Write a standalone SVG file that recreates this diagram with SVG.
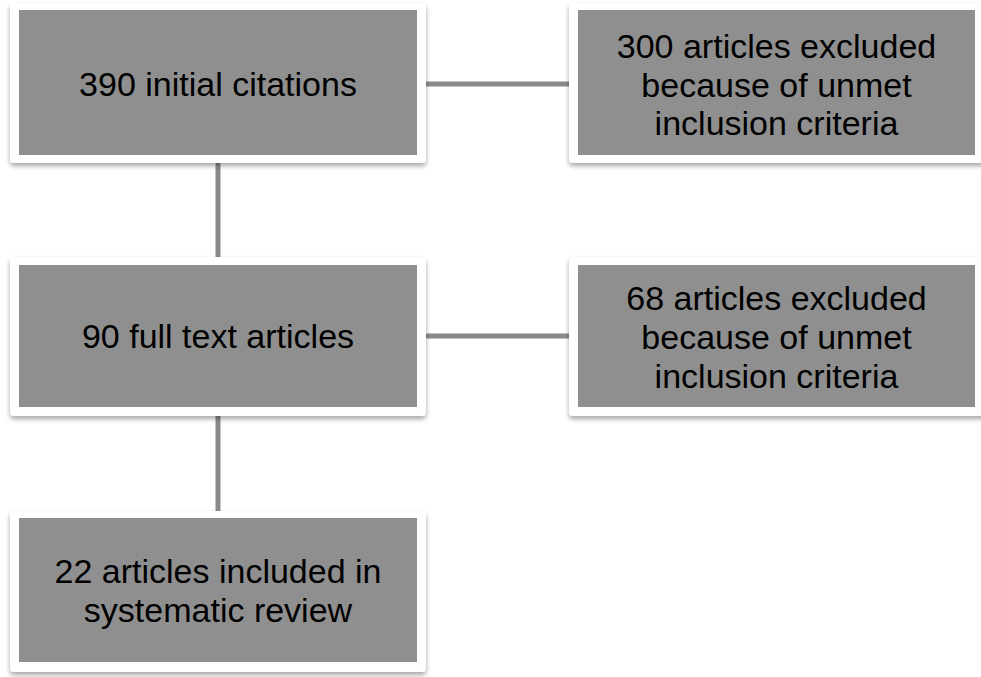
<svg xmlns="http://www.w3.org/2000/svg" width="981" height="677" viewBox="0 0 981 677">
<defs>
<filter id="sh" x="-10%" y="-10%" width="120%" height="130%">
<feGaussianBlur in="SourceAlpha" stdDeviation="2.5"/>
<feOffset dx="0" dy="3" result="b"/>
<feComponentTransfer><feFuncA type="linear" slope="0.35"/></feComponentTransfer>
<feMerge><feMergeNode/><feMergeNode in="SourceGraphic"/></feMerge>
</filter>
</defs>
<style>
.frame{fill:#ffffff;filter:url(#sh)}
.box{fill:#8f8f8f}
.t{font-family:"Liberation Sans",Arial,sans-serif;font-size:34px;fill:#000;text-anchor:middle}
.c{stroke:#8a8a8a;stroke-width:5;fill:none}
</style>
<rect width="981" height="677" fill="#ffffff"/>
<g id="connectors">
<line class="c" x1="218" y1="160" x2="218" y2="260"/>
<line class="c" x1="218" y1="412" x2="218" y2="514"/>
<line class="c" x1="424" y1="84" x2="573" y2="84"/>
<line class="c" x1="424" y1="336" x2="573" y2="336"/>
</g>
<g id="n1">
<rect class="frame" x="10" y="3" width="416" height="160" rx="4"/>
<rect class="box" x="19" y="10" width="398" height="145"/>
<text class="t" x="218" y="96">390 initial citations</text>
</g>
<g id="n2">
<rect class="frame" x="569" y="3" width="420" height="160" rx="4"/>
<rect class="box" x="578" y="10" width="397" height="145"/>
<text class="t" x="776.5" y="58">300 articles excluded</text>
<text class="t" x="776.5" y="96.5">because of unmet</text>
<text class="t" x="776.5" y="135">inclusion criteria</text>
</g>
<g id="n3">
<rect class="frame" x="10" y="257" width="416" height="159" rx="4"/>
<rect class="box" x="19" y="265" width="398" height="142"/>
<text class="t" x="218" y="348">90 full text articles</text>
</g>
<g id="n4">
<rect class="frame" x="569" y="257" width="420" height="159" rx="4"/>
<rect class="box" x="578" y="265" width="397" height="142"/>
<text class="t" x="776.5" y="310">68 articles excluded</text>
<text class="t" x="776.5" y="349">because of unmet</text>
<text class="t" x="776.5" y="388">inclusion criteria</text>
</g>
<g id="n5">
<rect class="frame" x="10" y="511" width="416" height="161" rx="4"/>
<rect class="box" x="19" y="518" width="398" height="144"/>
<text class="t" x="218" y="583">22 articles included in</text>
<text class="t" x="218" y="622">systematic review</text>
</g>
</svg>
